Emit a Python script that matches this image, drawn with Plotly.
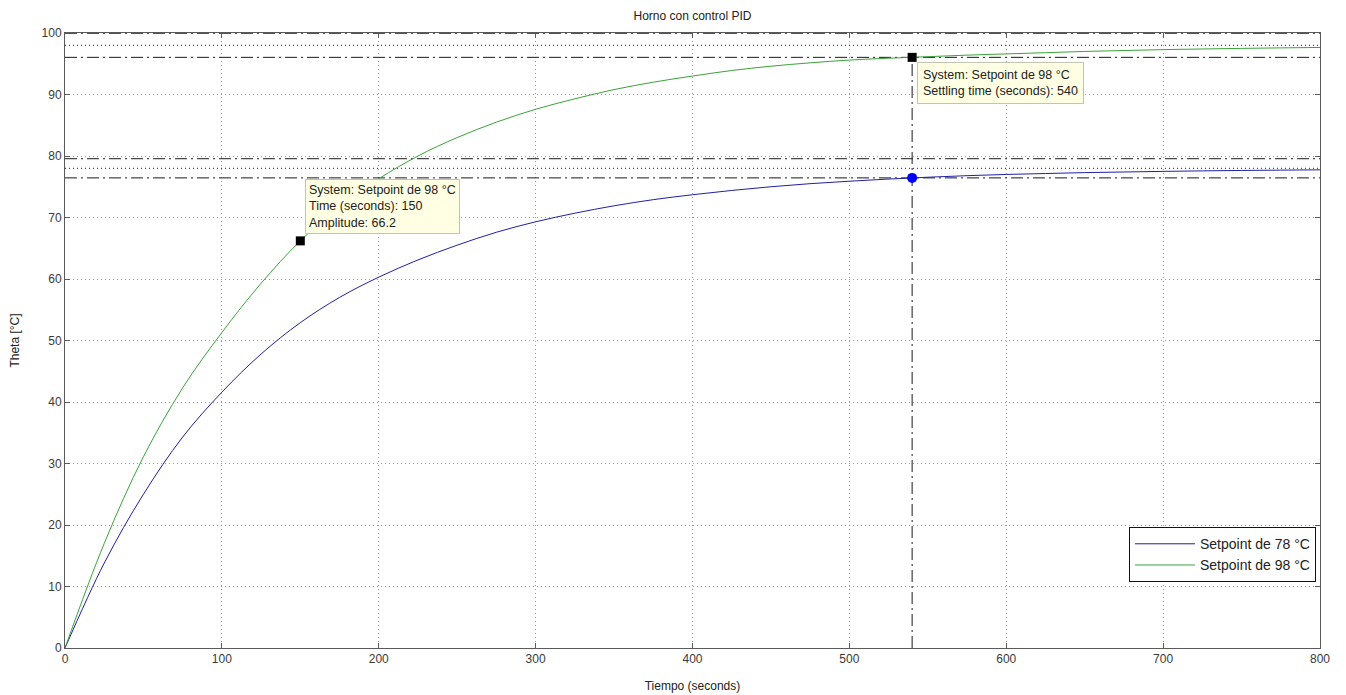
import plotly.graph_objects as go

# Time samples (seconds)
t = [0, 25, 50, 75, 100, 125, 150, 175, 200, 225, 250, 275, 300, 325, 350, 375, 400,
     425, 450, 475, 500, 525, 550, 575, 600, 625, 650, 675, 700, 725, 750, 775, 800]
# Response for setpoint 78 °C
theta_78 = [0, 13.8, 25.0, 34.3, 41.6, 47.8, 52.9, 57.0, 60.3, 63.1, 65.5, 67.6, 69.3, 70.7, 71.9,
            72.9, 73.7, 74.4, 75.0, 75.5, 75.9, 76.25, 76.55, 76.8, 77.0, 77.15, 77.3, 77.4,
            77.5, 77.58, 77.65, 77.7, 77.75]
# Response for setpoint 98 °C
theta_98 = [0, 17.0, 31.1, 42.3, 51.3, 59.3, 66.2, 71.8, 76.3, 80.0, 83.0, 85.5, 87.6, 89.3, 90.8,
            92.0, 93.0, 93.9, 94.6, 95.15, 95.6, 95.9, 96.15, 96.4, 96.6, 96.8, 97.0, 97.15,
            97.3, 97.4, 97.5, 97.58, 97.65]

series_names = ["Setpoint de 78 °C", "Setpoint de 98 °C"]
final_values = [78, 98]
settle_low = [76.44, 96.04]
settle_high = [79.56, 99.96]
settling_time = 540
peak_t, peak_v = 150, 66.2

x_ticks = [0, 100, 200, 300, 400, 500, 600, 700, 800]
y_ticks = [0, 10, 20, 30, 40, 50, 60, 70, 80, 90, 100]

blue = "#1f1fa8"
green = "#3aa33a"
dashdot = "12px,4px,2px,4px"
FONT = "Liberation Sans, Arial, sans-serif"

fig = go.Figure()

# reference lines (settling band and final values)
for v in settle_low + settle_high:
    fig.add_trace(go.Scatter(x=[0, 800], y=[v, v], mode="lines", showlegend=False,
                             hoverinfo="skip", line=dict(color="#1a1a1a", width=1, dash=dashdot)))
for v in final_values:
    fig.add_trace(go.Scatter(x=[0, 800], y=[v, v], mode="lines", showlegend=False,
                             hoverinfo="skip", line=dict(color="#1a1a1a", width=1, dash="1px,3px")))
fig.add_trace(go.Scatter(x=[settling_time, settling_time], y=[0, settle_low[1]], mode="lines",
                         showlegend=False, hoverinfo="skip",
                         line=dict(color="#1a1a1a", width=1, dash=dashdot)))

# responses
fig.add_trace(go.Scatter(x=t, y=theta_78, mode="lines", name=series_names[0],
                         line=dict(color=blue, width=1, shape="spline")))
fig.add_trace(go.Scatter(x=t, y=theta_98, mode="lines", name=series_names[1],
                         line=dict(color=green, width=1, shape="spline")))

# markers
fig.add_trace(go.Scatter(x=[settling_time], y=[settle_low[0]], mode="markers", showlegend=False,
                         marker=dict(color="#0000ff", size=10, symbol="circle")))
fig.add_trace(go.Scatter(x=[settling_time, peak_t], y=[settle_low[1], peak_v], mode="markers",
                         showlegend=False, marker=dict(color="black", size=9, symbol="square")))

tip_style = dict(showarrow=False, align="left", bgcolor="#ffffe3", bordercolor="#c4c4b0",
                 borderwidth=1, font=dict(family=FONT, size=12.5, color="#222"),
                 xanchor="left", yanchor="top", xref="x", yref="y")
fig.add_annotation(x=peak_t, y=peak_v, xshift=5, yshift=62, borderpad=3,
                   text="System: Setpoint de 98 °C<br>Time (seconds): 150<br>Amplitude: 66.2", **tip_style)
fig.add_annotation(x=settling_time, y=settle_low[1], xshift=5, yshift=-5, borderpad=5,
                   text="System: Setpoint de 98 °C<br>Settling time (seconds): 540", **tip_style)

axis_common = dict(showline=True, linecolor="#5a5a5a", linewidth=1, mirror="ticks",
                   ticks="inside", ticklen=5, tickcolor="#5a5a5a", automargin=False,
                   showgrid=True, gridcolor="#9a9a9a", griddash="1px,3px", gridwidth=1,
                   zeroline=False, tickfont=dict(size=12, color="#3a3a3a"))

fig.update_layout(
    width=1338, height=687,
    margin=dict(l=57, r=26, t=25, b=47),
    paper_bgcolor="white", plot_bgcolor="white",
    font=dict(family=FONT, size=12, color="#222"),
    title=dict(text="Horno con control PID", x=0.5, xanchor="center", xref="paper",
               y=1 - 8 / 687, yanchor="middle", font=dict(size=12)),
    xaxis=dict(range=[0, 800], tickvals=x_ticks,
               title=dict(text="Tiempo (seconds)", standoff=16, font=dict(size=12)),
               **axis_common),
    yaxis=dict(range=[0, 100], tickvals=y_ticks,
               title=dict(text="Theta [°C]", standoff=20, font=dict(size=12)),
               **axis_common),
    legend=dict(x=0.9968, xanchor="right", y=0.107, yanchor="bottom", bgcolor="white",
                bordercolor="#111", borderwidth=1, font=dict(size=14), itemwidth=60,
                tracegroupgap=0),
    showlegend=True,
)

fig.write_html("out.html")
